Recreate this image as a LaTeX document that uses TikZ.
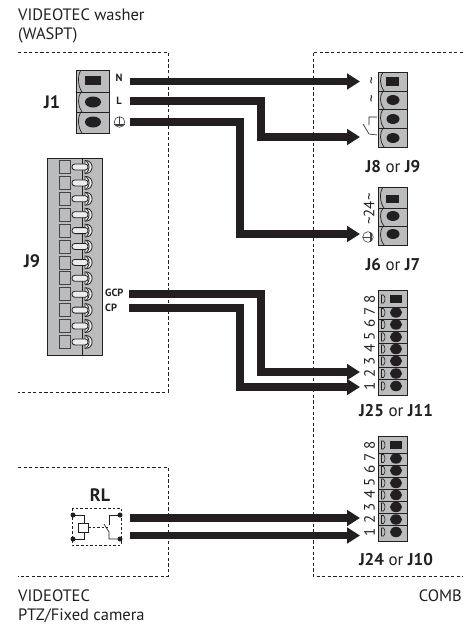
\documentclass[tikz,border=0pt]{standalone}
\usepackage{fontspec}
\setmainfont{PT Sans}
\usetikzlibrary{arrows.meta}
\definecolor{ink}{HTML}{231F20}
\definecolor{blockgrey}{HTML}{BBBCBE}
\tikzset{
 x=1pt,y=-1pt,
 boundary/.style={ink,line width=0.7pt,dash pattern=on 3.2pt off 2.4pt},
 block/.style={draw=ink,fill=blockgrey,line width=1.3pt,inner sep=0pt,minimum width=#1},
 thin part/.style={draw=ink,line width=0.7pt},
 sep/.style={draw=ink,line width=1pt},
 wire/.style={draw=ink,line width=7.5pt,line join=miter,-{Triangle[length=13pt,width=15.5pt]}},
 txt/.style={inner sep=0pt,text=ink,font=\fontsize{16.5}{18}\selectfont},
 jlab/.style={inner sep=0pt,text=ink,font=\fontsize{17}{18}\selectfont},
 biglab/.style={inner sep=0pt,text=ink,font=\fontsize{18}{18}\bfseries\selectfont},
 small/.style={inner sep=0pt,text=ink,font=\fontsize{10.5}{12}\bfseries\selectfont},
 num/.style={inner sep=0pt,text=ink,rotate=90,font=\fontsize{15}{15}\selectfont},
}
\newcommand{\bigcell}[3]{%
  \draw[thin part] ({#1+5},#2) .. controls ({#1+1.5},{#2+5}) and ({#1+1.5},{#3-6}) .. ({#1+6},#3);
}
\newcommand{\groundsym}[3]{%
  \begin{scope}[shift={(#1,#2)},rotate=#3]
    \draw[ink!85,line width=0.6pt] (0,0) circle (5.3pt);
    \draw[ink!85,line width=0.6pt] (0,-5.3) -- (0,2.2) (-5.2,2.2) -- (5.2,2.2) (-3.6,3.6) -- (3.6,3.6);
  \end{scope}
}
\newcommand{\eightway}[2]{%
  \node[block=29pt,minimum height=105pt,anchor=north west] (#1) at (378,{290+#2}) {};
  \foreach \s in {307,319,331,343,355,367,379}{\draw[sep] (378,{\s+#2}) -- (407,{\s+#2});}
  \fill[ink] (390,{295+#2}) rectangle (402,{303+#2});
  \foreach \s in {312.5,324.5,337,349,361,373.5,386}{\fill[ink] (396,{\s+#2}) ellipse (6pt and 5.2pt);}
  \foreach \s in {299,312.5,324.5,337,349,361,373.5,386}{
    \draw[ink,line width=0.6pt] (381.5,{\s+#2-4}) -- (383.5,{\s+#2-4}) .. controls (385.5,{\s+#2-2}) and (385.5,{\s+#2+2}) .. (383.5,{\s+#2+4}) -- (381.5,{\s+#2+4}) -- cycle;}
  \foreach \n/\s in {8/299,7/311,6/323.5,5/336,4/348,3/361,2/373.5,1/386.5}{\node[num] at (369.5,{\s+#2}) {\n};}
}
\begin{document}
\begin{tikzpicture}
\useasboundingbox (0,0) rectangle (465,627);
\fill[white] (0,0) rectangle (465,627);

% boundaries
\draw[boundary] (18,52) -- (168,52) -- (168,392) -- (18,392);
\draw[boundary] (18,467) -- (168,467) -- (168,576) -- (18,576);
\draw[boundary] (463,52) -- (313,52) -- (313,576) -- (463,576);

% titles
\node[txt,anchor=west] (title1) at (18,15) {VIDEOTEC washer};
\node[txt,anchor=west] (title2) at (18,35.5) {(WASPT)};
\node[txt,anchor=west] (title3) at (18,596) {VIDEOTEC};
\node[txt,anchor=west] (title4) at (18,616) {PTZ/Fixed camera};
\node[txt,anchor=east] (title5) at (462,596) {COMB};

% J1
\node[block=33pt,minimum height=63pt,anchor=north west] (J1block) at (76,70) {};
\draw[sep] (76,92) -- (109,92) (76,112) -- (109,112);
\bigcell{76}{70}{92}\bigcell{76}{92}{112}\bigcell{76}{112}{133}
\fill[ink] (85,76) rectangle (101,85);
\fill[ink] (93,102) ellipse (8pt and 5.5pt);
\fill[ink] (93,122) ellipse (8pt and 5.5pt);
\node[biglab] (J1lab) at (52,102) {J1};
\node[small] (Nlab) at (119,78) {N};
\node[small] (Llab) at (119,101) {L};
\groundsym{119.5}{122}{0}

% J9
\node[block=55pt,minimum height=197pt,anchor=north west] (J9block) at (47,158) {};
\draw[ink,line width=0.7pt] (82,158) -- (82,355);
\foreach \i in {0,...,11}{
  \pgfmathsetmacro{\yy}{167+15.9*\i}
  \draw[ink!85,line width=0.8pt] (59,{\yy-6.5}) rectangle (70,{\yy+6.5});
  \draw[ink,line width=0.8pt,fill=white!70!blockgrey] (85,{\yy-6.5}) .. controls (94.5,{\yy-7}) and (94.5,{\yy+7}) .. (85,{\yy+6.5}) -- cycle;
  \draw[ink,line width=0.8pt] (86.5,{\yy-6}) .. controls (90,{\yy-2}) and (90,{\yy+2}) .. (86.5,{\yy+6});
  \draw[ink,line width=0.8pt,fill=white!70!blockgrey,rounded corners=2.8pt] (72,{\yy-3}) rectangle (88,{\yy+3});
}
\node[biglab] (J9lab) at (32,261) {J9};
\node[small,anchor=west] (GCPlab) at (105,293) {GCP};
\node[small,anchor=west] (CPlab) at (105,307.5) {CP};

% J8
\node[block=29pt,minimum height=75pt,anchor=north west] (J8block) at (378,72) {};
\draw[sep] (378,91) -- (407,91) (378,109) -- (407,109) (378,128) -- (407,128);
\bigcell{378}{72}{91}\bigcell{378}{91}{109}\bigcell{378}{109}{128}\bigcell{378}{128}{147}
\fill[ink] (386,77) rectangle (399,86);
\foreach \s in {100,119,138}{\fill[ink] (393,\s) ellipse (6.5pt and 5pt);}
\node[inner sep=0pt,rotate=90,font=\fontsize{15}{15}\selectfont,text=ink] (acA) at (373.5,81) {\char"7E};
\node[inner sep=0pt,rotate=90,font=\fontsize{15}{15}\selectfont,text=ink] (acB) at (373.5,99) {\char"7E};
\draw[ink,line width=0.6pt] (377,117) -- (369,117) -- (369,125) (363,124) -- (369,134) -- (377,135);
\node[jlab] (J8lab) at (393,167) {\textbf{J8} or \textbf{J9}};

% J6
\node[block=29pt,minimum height=58pt,anchor=north west] (J6block) at (378,187) {};
\draw[sep] (378,208) -- (407,208) (378,226) -- (407,226);
\bigcell{378}{187}{208}\bigcell{378}{208}{226}\bigcell{378}{226}{245}
\fill[ink] (386,195) rectangle (399,203);
\foreach \s in {216,234}{\fill[ink] (393,\s) ellipse (6.5pt and 5pt);}
\node[inner sep=0pt,rotate=90,font=\fontsize{15}{15}\selectfont,text=ink] (v24) at (369,209) {\char"7E 24\char"7E};
\groundsym{368}{237}{90}
\node[jlab] (J6lab) at (393,265) {\textbf{J6} or \textbf{J7}};

% J25 and J24
\eightway{J25block}{0}
\node[jlab] (J25lab) at (396,411) {\textbf{J25} or \textbf{J11}};
\eightway{J24block}{146}
\node[jlab] (J24lab) at (396,560) {\textbf{J24} or \textbf{J10}};

% RL
\node[biglab] (RLlab) at (100,495) {RL};
\draw[ink,line width=0.7pt,dash pattern=on 2.6pt off 2pt] (72,508) rectangle (121,545);
\coordinate (rlTL) at (73,515); \coordinate (rlBL) at (73,539);
\coordinate (rlTR) at (120,515); \coordinate (rlBR) at (120,539);
\foreach \p in {rlTL,rlBL,rlTR,rlBR}{\fill[ink] (\p) circle (2.5pt);}
\draw[ink,line width=0.7pt] (rlTL) -- (84,515) -- (84,523);
\draw[ink,line width=0.7pt] (rlBL) -- (84,539) -- (84,532);
\draw[ink,line width=0.9pt] (78,523) rectangle (88,532);
\draw[ink,line width=0.7pt,dash pattern=on 2.6pt off 2pt] (88,527.5) -- (108,527.5);
\draw[ink,line width=0.7pt] (rlTR) -- (109,515) -- (109,525);
\draw[ink,line width=0.7pt] (104,524) -- (109,532) -- (109,539) -- (rlBR);

% wire ends
\coordinate (srcN) at (130,81.5);
\coordinate (srcL) at (130,101);
\coordinate (srcG) at (130,122);
\coordinate (srcGCP) at (129,294);
\coordinate (srcCP) at (129,308);
\coordinate (srcRa) at (130,518);
\coordinate (srcRb) at (130,535.5);
\coordinate (dstN) at (360,81.5);
\coordinate (dstL) at (360,137);
\coordinate (dstG) at (360,234);
\coordinate (dstGCP) at (360,372);
\coordinate (dstCP) at (360,387);
\coordinate (dstRa) at (360,518);
\coordinate (dstRb) at (360,535.5);

% wires
\draw[wire] (srcN) -- (dstN);
\draw[wire] (srcL) -- (261,101) -- (261,137) -- (dstL);
\draw[wire] (srcG) -- (240,122) -- (240,234) -- (dstG);
\draw[wire] (srcGCP) -- (261,294) -- (261,372) -- (dstGCP);
\draw[wire] (srcCP) -- (240,308) -- (240,387) -- (dstCP);
\draw[wire] (srcRa) -- (dstRa);
\draw[wire] (srcRb) -- (dstRb);
\end{tikzpicture}
\end{document}
